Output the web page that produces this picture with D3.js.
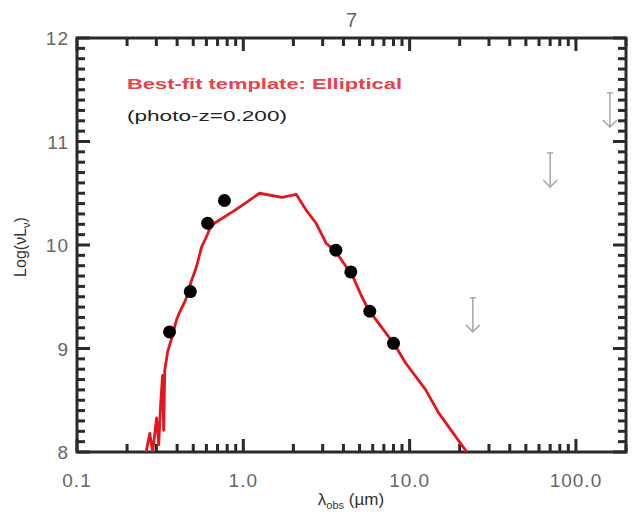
<!DOCTYPE html>
<html><head><meta charset="utf-8">
<script src="https://cdn.jsdelivr.net/npm/d3@7"></script>
<style>body{margin:0;background:#fff}svg{display:block}text{font-family:"Liberation Sans",Arial,sans-serif}</style>
</head><body>
<script>
// ---- data ----
const title = "7";
const templateName = "Best-fit template: Elliptical";
const photoZ = "(photo-z=0.200)";
// template curve: wavelength (µm), log(νLν)
const tplLambda = [0.248,0.274,0.285,0.301,0.310,0.318,0.327,0.332,0.337,0.351,0.371,0.397,0.414,0.450,0.489,0.523,0.561,0.600,0.626,0.670,0.859,1.04,1.25,1.71,2.08,2.38,2.74,3.14,3.61,4.20,4.43,5.16,5.68,8.02,9.46,12.5,14.9,21.6,22.5];
const tplLogL   = [7.83,8.18,8.00,8.33,8.07,8.45,8.74,8.21,8.79,8.97,9.10,9.28,9.35,9.47,9.66,9.79,9.98,10.08,10.15,10.21,10.32,10.41,10.50,10.46,10.49,10.34,10.21,10.02,9.93,9.78,9.74,9.50,9.37,9.05,8.86,8.60,8.38,8.02,7.97];
// photometry
const obsLambda = [0.36,0.48,0.61,0.77,3.6,4.43,5.76,8.0];
const obsLogL   = [9.16,9.55,10.21,10.43,9.95,9.74,9.36,9.05];
// upper limits
const limLambda = [24,70,160];
const limLogL   = [9.49,10.89,11.47];
const limDrop   = 0.33;
const xTickValues = [0.1,1,10,100];
const xTickLabels = ["0.1","1.0","10.0","100.0"];
const yTickValues = [8,9,10,11,12];

// ---- layout ----
const W=632,H=520, L=77,R=626,T=38,B=452;
const svg=d3.select("body").append("svg").attr("width",W).attr("height",H);
const x=d3.scaleLog().domain([0.1,200]).range([L,R]);
const y=d3.scaleLinear().domain([8,12]).range([B,T]);
const axisCol="#2a2a2a", labCol="#666";

svg.append("clipPath").attr("id","clip").append("rect").attr("x",L).attr("y",T).attr("width",R-L).attr("height",B-T);

// minor ticks lists
const xMinor=[];
[0.1,1,10,100].forEach(d=>{for(let k=2;k<=9;k++){const v=d*k; if(v<=200) xMinor.push(v);}});
const yMinor=d3.range(1,40).map(k=>8+k/10).filter((v,i)=>(i+1)%10!==0);

// frame
svg.append("rect").attr("x",L).attr("y",T).attr("width",R-L).attr("height",B-T).attr("fill","none").attr("stroke",axisCol).attr("stroke-width",3);

// ticks via d3 data joins
const tickG=svg.append("g").attr("fill",axisCol);
const xt=[...xTickValues.map(v=>({v,len:13})),...xMinor.map(v=>({v,len:8}))];
const yt=[...yTickValues.map(v=>({v,len:13})),...yMinor.map(v=>({v,len:8}))];
tickG.selectAll("rect.xb").data(xt).join("rect").attr("class","xb")
  .attr("x",d=>x(d.v)-1.5).attr("y",d=>B-d.len).attr("width",3).attr("height",d=>d.len);
tickG.selectAll("rect.xtp").data(xt).join("rect").attr("class","xtp")
  .attr("x",d=>x(d.v)-1.5).attr("y",T).attr("width",3).attr("height",d=>d.len);
tickG.selectAll("rect.yl").data(yt).join("rect").attr("class","yl")
  .attr("x",L).attr("y",d=>y(d.v)-1.5).attr("width",d=>d.len).attr("height",3);
tickG.selectAll("rect.yr").data(yt).join("rect").attr("class","yr")
  .attr("x",d=>R-d.len).attr("y",d=>y(d.v)-1.5).attr("width",d=>d.len).attr("height",3);

// tick labels
svg.selectAll("text.xlab").data(xTickValues).enter().append("text").attr("class","xlab")
  .attr("x",d=>x(d)).attr("y",487).attr("text-anchor","middle").attr("font-size",19).attr("fill",labCol).attr("letter-spacing",1)
  .text((d,i)=>xTickLabels[i]);
svg.selectAll("text.ylab").data(yTickValues).enter().append("text").attr("class","ylab")
  .attr("x",69).attr("y",d=>y(d)+7).attr("text-anchor","end").attr("font-size",19).attr("fill",labCol).attr("letter-spacing",1)
  .text(d=>d);

// title
svg.append("text").attr("x",(L+R)/2).attr("y",27).attr("text-anchor","middle").attr("font-size",20).attr("fill",labCol).text(title);

// axis titles
const xT=svg.append("text").attr("x",351).attr("y",505).attr("text-anchor","middle").attr("font-size",17).attr("fill","#333");
xT.append("tspan").text("λ");
xT.append("tspan").attr("font-size",11).attr("dy",4).text("obs");
xT.append("tspan").attr("dy",-4).text(" (µm)");
const yT=svg.append("text").attr("transform","translate(26,247) rotate(-90)").attr("text-anchor","middle").attr("font-size",16).attr("fill","#333");
yT.append("tspan").text("Log(νL");
yT.append("tspan").attr("font-size",11).attr("dy",4).text("ν");
yT.append("tspan").attr("dy",-4).text(")");

// template curve
const tpl=tplLambda.map((d,i)=>[d,tplLogL[i]]);
svg.append("path").datum(tpl).attr("clip-path","url(#clip)")
  .attr("d",d3.line().x(d=>x(d[0])).y(d=>y(d[1])))
  .attr("fill","none").attr("stroke","#e3161d").attr("stroke-width",2.8).attr("stroke-linejoin","round");

// observed points
svg.selectAll("circle.pt").data(obsLambda).enter().append("circle").attr("class","pt")
  .attr("cx",d=>x(d)).attr("cy",(d,i)=>y(obsLogL[i])).attr("r",6.5).attr("fill","#000");

// upper limits
const limG=svg.append("g").attr("stroke","#aaa").attr("stroke-width",1.6).attr("fill","none");
limLambda.forEach((d,i)=>{
  const cx=x(d), y0=y(limLogL[i]), y1=y(limLogL[i]-limDrop);
  limG.append("line").attr("x1",cx).attr("x2",cx).attr("y1",y0).attr("y2",y1);
  limG.append("line").attr("x1",cx-3).attr("x2",cx+3).attr("y1",y0).attr("y2",y0);
  limG.append("path").attr("d",`M${cx-7},${y1-7}L${cx},${y1}L${cx+7},${y1-7}`);
});

// annotations
svg.append("text").attr("x",127).attr("y",89).attr("font-size",15).attr("font-weight","bold").attr("fill","#e8414a")
  .attr("textLength",275).attr("lengthAdjust","spacingAndGlyphs").text(templateName);
svg.append("text").attr("x",127).attr("y",121).attr("font-size",15).attr("fill","#222")
  .attr("textLength",160).attr("lengthAdjust","spacingAndGlyphs").text(photoZ);
</script>
</body></html>
